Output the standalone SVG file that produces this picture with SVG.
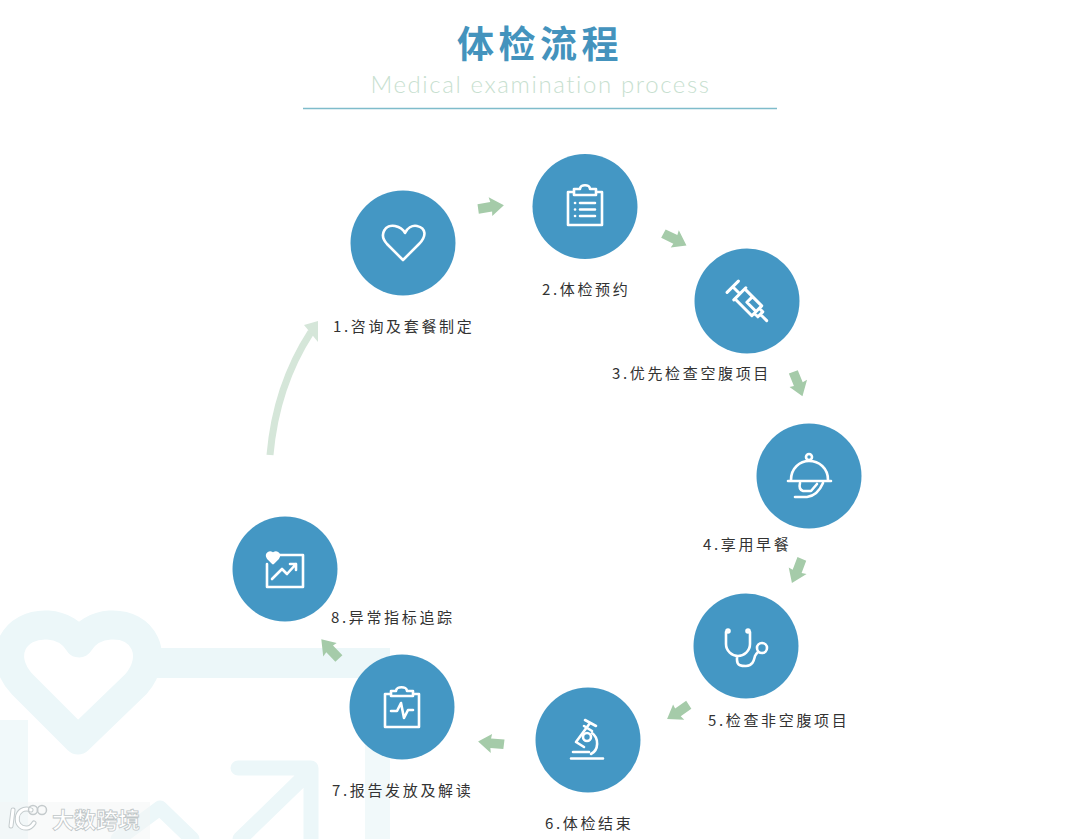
<svg xmlns="http://www.w3.org/2000/svg" width="1080" height="839" viewBox="0 0 1080 839">
<defs>
<style>
text{font-family:"Noto Sans CJK SC","Noto Sans",sans-serif}
.lbl{font-size:15px;letter-spacing:2.65px;fill:#333}
.disc{fill:#4497c4}
.ic{fill:none;stroke:#fff;stroke-width:2.6;stroke-linecap:round;stroke-linejoin:round}
.wm{fill:none;stroke:#ecf7f9;stroke-linejoin:round}
.ar{fill:#a5cba9}
</style>
<polygon id="arrow" points="-13,-4.500 0,-5 -1,-10 13,0 0,9 0.500,4.500 -13,5"/>
</defs>
<rect width="1080" height="839" fill="#fff"/>
<g id="background">
<path class="wm" stroke-width="29" d="M78 740 L22 684 C-4 656 14 623 48 625 C62 626 73 633 79 643 C85 633 96 626 110 625 C144 623 160 656 136 684 Z"/>
<rect x="150" y="648" width="240" height="30" fill="#ecf7f9"/>
<rect x="365" y="678" width="25" height="161" fill="#f1f9fa"/>
<rect x="0" y="720" width="28" height="119" fill="#f1f9fa"/>
<path class="wm" stroke-width="15" stroke-linecap="round" d="M238 768 H311 M311 768 V839 M311 770 L240 839 M118 839 L160 808 L192 839"/>
</g>
<text x="540" y="58" text-anchor="middle" font-size="37" font-weight="700" letter-spacing="4.500" fill="#4493bd">体检流程</text>
<text x="540.500" y="93" text-anchor="middle" font-size="24" font-weight="300" letter-spacing="1.600" fill="#c8dfd0" style="font-family:Lato,'Noto Sans',sans-serif">Medical examination process</text>
<line x1="303" y1="108.500" x2="777" y2="108.500" stroke="#7fbccb" stroke-width="1.600"/>
<g id="connectors">
<use href="#arrow" class="ar" transform="translate(491 207) rotate(-8)"/>
<use href="#arrow" class="ar" transform="translate(675 239.500) rotate(28)"/>
<use href="#arrow" class="ar" transform="translate(798 384) rotate(70)"/>
<use href="#arrow" class="ar" transform="translate(797 571) rotate(113)"/>
<use href="#arrow" class="ar" transform="translate(678 712) rotate(147)"/>
<use href="#arrow" class="ar" transform="translate(491 743) rotate(187)"/>
<use href="#arrow" class="ar" transform="translate(330 649) rotate(-132)"/>
<path d="M270 455 Q276 386 311 332" fill="none" stroke="#d5e6d9" stroke-width="7"/>
<polygon points="304,325 318,321 318,342" fill="#d5e6d9"/>
</g>
<g id="node1">
<circle class="disc" cx="403" cy="243" r="52.500"/>
<path class="ic" d="M403 260 L387 244 C378 234 386 224 395 226 C400 227 403 229 405 233 C407 228 412 225 417 226 C426 228 427 236 419 244 L403 260 Z"/>
<text class="lbl" x="333" y="332">1.咨询及套餐制定</text>
</g>
<g id="node2">
<circle class="disc" cx="585" cy="206.500" r="52.500"/>
<path class="ic" d="M574 192 H568 V225 H602 V192 H596 M574 189 H580 C580 184 590 184 590 189 H596 V195 H574 Z M580 203 H595 M580 209.500 H595 M580 216 H595"/>
<path class="ic" d="M575 203 h.1 M575 209.500 h.1 M575 216 h.1"/>
<text class="lbl" x="542" y="295">2.体检预约</text>
</g>
<g id="node3">
<circle class="disc" cx="747" cy="301" r="52.500"/>
<g transform="translate(749 303) rotate(45)">
<path class="ic" style="stroke-width:3" d="M-23 -8 V8 M-23 0 H-13 M-13 -8.500 V8.500 M-13 -7 H11 V7 H-13 M-2 -7 V1 H11 M11 -3.500 H16 V3.500 H11 M16 0 H25"/>
</g>
<text class="lbl" x="612" y="379">3.优先检查空腹项目</text>
</g>
<g id="node4">
<circle class="disc" cx="809" cy="476" r="52.500"/>
<circle class="ic" cx="809" cy="457" r="3"/>
<path class="ic" d="M791 480 C791 468 800 461 809 461 C819 461 828 468 828 480 M788 481 H831 M800 483 C799 487 800 490 803 491 M795 497 H807 C815 496 820 490 823 483 M803 491 H811 L817 484"/>
<text class="lbl" x="703" y="550">4.享用早餐</text>
</g>
<g id="node5">
<circle class="disc" cx="746" cy="646" r="52.500"/>
<circle class="ic" cx="762" cy="648" r="5"/>
<path class="ic" d="M726 632 V644 C726 651 732 656 738 656 C744 656 750 651 750 644 V632 M737 656 V660 C737 666 742 666 746 666 C753 666 754 660 755 656 C756 654 757 653 758 652"/>
<circle class="ic" cx="728" cy="631" r="1.500"/>
<circle class="ic" cx="748" cy="631" r="1.500"/>
<text class="lbl" x="708" y="726">5.检查非空腹项目</text>
</g>
<g id="node6">
<circle class="disc" cx="588" cy="740" r="52.500"/>
<circle class="ic" cx="587" cy="737" r="4"/>
<path class="ic" d="M571 758.500 H603 M585 720 L596 726 M590 723 L576 742 L584 747 M584 726 L592 731 M592 733 C599 738 599 750 591 754 M573 752 H589"/>
<text class="lbl" x="545" y="829">6.体检结束</text>
</g>
<g id="node7">
<circle class="disc" cx="402" cy="707" r="52.500"/>
<path class="ic" d="M391 694 H385 V727 H419 V694 H413 M391 691 H396 C396 686 407 686 407 691 H413 V696 H391 Z M391 711 H397 L401 703 L404 718 L408 710 H413"/>
<text class="lbl" x="332" y="796">7.报告发放及解读</text>
</g>
<g id="node8">
<circle class="disc" cx="285" cy="569" r="52.500"/>
<path class="ic" d="M276 555 H303 V587 H267 V564 M272 579 L282 569 L287 574 L296 564 M290 564 H296 V570"/>
<path class="ic" style="fill:#fff" d="M273 563 L268 558 C265 554 270 551 273 554 C276 551 281 554 278 558 Z"/>
<text class="lbl" x="331" y="623">8.异常指标追踪</text>
</g>
<g id="watermark">
<rect x="0" y="802" width="150" height="37" fill="#f3f5f5" opacity="0.500"/>
<path d="M13 810 L11 826 M31 810 C15 804 12 829 27 828 C30 828 32 826 34 823" fill="none" stroke="#c4cbcd" stroke-width="5" stroke-linecap="round"/>
<path d="M13 810 L11 826 M31 810 C15 804 12 829 27 828 C30 828 32 826 34 823" fill="none" stroke="#fff" stroke-width="3" stroke-linecap="round"/>
<circle cx="33" cy="810" r="4.500" fill="none" stroke="#c4cacc" stroke-width="1.500"/>
<circle cx="42" cy="810" r="4.500" fill="none" stroke="#c4cacc" stroke-width="1.500"/>
<text x="52" y="828" font-size="22" font-weight="700" fill="#fff" stroke="#bfc6c8" stroke-width="0.800">大数跨境</text>
</g>
</svg>
